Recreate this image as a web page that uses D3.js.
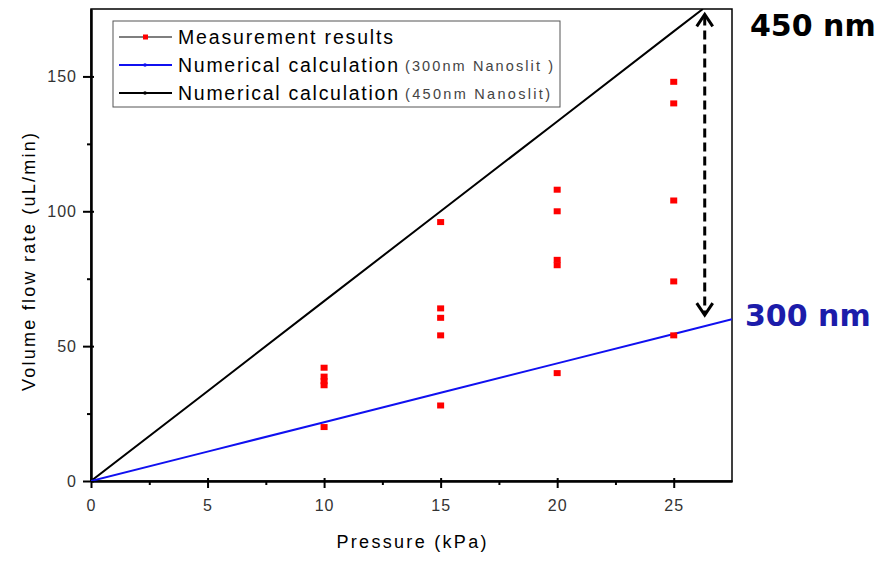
<!DOCTYPE html>
<html>
<head>
<meta charset="utf-8">
<script src="https://cdn.jsdelivr.net/npm/d3@7"></script>
<style>
    body { margin: 0; background: #fff; }
    #chart { width: 884px; height: 562px; }
    text { font-family: "Liberation Sans", Arial, sans-serif; }
</style>
</head>
<body>
<div id="chart"></div>
<script>

// measured points, one pressure per group
var measPressure = [10, 15, 20, 25];
var measFlow = [
    [42, 38.7, 37, 35.5, 20],
    [96, 64, 60.5, 54, 28],
    [108, 100, 82, 80, 40],
    [148, 140, 104, 74, 54]
];

// numerical calculation lines
var calcPressure300 = [0, 5, 10, 15, 20, 25, 27.5];
var calcFlow300 = [0, 10.9, 21.8, 32.7, 43.6, 54.5, 60];
var calcPressure450 = [0, 5, 10, 15, 20, 25, 26.25];
var calcFlow450 = [0, 33.3, 66.7, 100, 133.3, 166.7, 175];

var xTicks = [0, 5, 10, 15, 20, 25];
var xMinor = [2.5, 7.5, 12.5, 17.5, 22.5];
var yTicks = [0, 50, 100, 150];
var yMinor = [25, 75, 125];

var legendLabels = ["Measurement results", "Numerical calculation", "Numerical calculation"];
var legendNotes = ["", "(300nm Nanoslit )", "(450nm Nanoslit)"];


var width = 884;
var height = 562;
var margin = {top: 9, right: 152, bottom: 81, left: 91};

var svg = d3.select("#chart")
    .append("svg")
    .attr("width", width)
    .attr("height", height);

var x = d3.scaleLinear()
    .domain([0, 27.5])
    .range([margin.left, width - margin.right]);

var y = d3.scaleLinear()
    .domain([0, 175])
    .range([height - margin.bottom, margin.top]);

svg.append("clipPath")
    .attr("id", "plotClip")
    .append("rect")
    .attr("x", margin.left)
    .attr("y", margin.top)
    .attr("width", x(27.5) - x(0))
    .attr("height", y(0) - y(175));


// frame (top and right)
svg.append("rect")
    .attr("x", x(0))
    .attr("y", y(175))
    .attr("width", x(27.5) - x(0))
    .attr("height", y(0) - y(175))
    .attr("fill", "none")
    .attr("stroke", "#000")
    .attr("stroke-width", 1.5);


// axes
var xAxis = svg.append("g")
    .attr("transform", "translate(0," + y(0) + ")")
    .call(d3.axisBottom(x).tickValues(xTicks).tickSize(7).tickSizeOuter(0).tickPadding(12));

var xAxisMinor = svg.append("g")
    .attr("transform", "translate(0," + y(0) + ")")
    .call(d3.axisBottom(x).tickValues(xMinor).tickSize(4).tickSizeOuter(0).tickFormat(""));

var yAxis = svg.append("g")
    .attr("transform", "translate(" + x(0) + ",0)")
    .call(d3.axisLeft(y).tickValues(yTicks).tickSize(8).tickSizeOuter(0).tickPadding(6));

var yAxisMinor = svg.append("g")
    .attr("transform", "translate(" + x(0) + ",0)")
    .call(d3.axisLeft(y).tickValues(yMinor).tickSize(4).tickSizeOuter(0).tickFormat(""));

xAxis.selectAll(".tick line").attr("y1", -3);
yAxis.selectAll(".tick line").attr("x1", 3);

svg.selectAll(".domain").attr("stroke", "#000").attr("stroke-width", 2);
svg.selectAll(".tick line").attr("stroke", "#000").attr("stroke-width", 2);
svg.selectAll(".tick text")
    .attr("font-size", 16)
    .attr("letter-spacing", 1)
    .attr("fill", "#333")
    .style("font-family", "'Liberation Sans', Arial, sans-serif");


// axis titles
svg.append("text")
    .attr("x", (x(0) + x(27.5)) / 2)
    .attr("y", 548)
    .attr("text-anchor", "middle")
    .attr("font-size", 18)
    .attr("textLength", 150)
    .attr("fill", "#000")
    .text("Pressure (kPa)");

svg.append("text")
    .attr("transform", "translate(35," + 262 + ") rotate(-90)")
    .attr("text-anchor", "middle")
    .attr("font-size", 18)
    .attr("textLength", 258)
    .attr("fill", "#000")
    .text("Volume flow rate (uL/min)");


// calculated lines
var line = d3.line()
    .x(function(d) { return x(d[0]); })
    .y(function(d) { return y(d[1]); });

var plot = svg.append("g").attr("clip-path", "url(#plotClip)");

plot.append("path")
    .datum(d3.zip(calcPressure450, calcFlow450))
    .attr("fill", "none")
    .attr("stroke", "#000")
    .attr("stroke-width", 2)
    .attr("d", line);

plot.append("path")
    .datum(d3.zip(calcPressure300, calcFlow300))
    .attr("fill", "none")
    .attr("stroke", "#1010f0")
    .attr("stroke-width", 2)
    .attr("d", line);


// measurement points
var points = [];
measPressure.forEach(function(p, i) {
    measFlow[i].forEach(function(v) { points.push({p: p, v: v}); });
});

plot.selectAll("rect.meas")
    .data(points)
    .enter()
    .append("rect")
        .attr("class", "meas")
        .attr("x", function(d) { return x(d.p) - 3.5; })
        .attr("y", function(d) { return y(d.v) - 3; })
        .attr("width", 7)
        .attr("height", 6)
        .attr("fill", "#ff0000");


// double arrow between the two lines
var ax = x(26.33);
var aTop = y(173);
var aBot = y(61.5);

svg.append("line")
    .attr("x1", ax).attr("x2", ax)
    .attr("y1", aTop + 2).attr("y2", aBot - 2)
    .attr("stroke", "#000")
    .attr("stroke-width", 3)
    .attr("stroke-dasharray", "9,5");

svg.append("path")
    .attr("d", "M" + (ax - 8) + "," + (aTop + 12) + "L" + ax + "," + aTop + "L" + (ax + 8) + "," + (aTop + 12))
    .attr("fill", "none")
    .attr("stroke", "#000")
    .attr("stroke-width", 3);

svg.append("path")
    .attr("d", "M" + (ax - 8) + "," + (aBot - 12) + "L" + ax + "," + aBot + "L" + (ax + 8) + "," + (aBot - 12))
    .attr("fill", "none")
    .attr("stroke", "#000")
    .attr("stroke-width", 3);

svg.append("text")
    .attr("x", 750)
    .attr("y", 36)
    .attr("font-size", 30)
    .attr("font-weight", "bold")
    .style("font-family", "'DejaVu Sans', Verdana, sans-serif")
    .attr("fill", "#000")
    .text("450 nm");

svg.append("text")
    .attr("x", 745)
    .attr("y", 326)
    .attr("font-size", 30)
    .attr("font-weight", "bold")
    .style("font-family", "'DejaVu Sans', Verdana, sans-serif")
    .attr("fill", "#1c1caa")
    .text("300 nm");


// legend
var legend = svg.append("g");

legend.append("rect")
    .attr("x", 113)
    .attr("y", 21)
    .attr("width", 447)
    .attr("height", 86)
    .attr("fill", "#fff")
    .attr("stroke", "#555")
    .attr("stroke-width", 1);

var legendColors = ["#555", "#1010f0", "#000"];
var rowY = [37, 65, 93];

legendLabels.forEach(function(lab, i) {
    legend.append("line")
        .attr("x1", 119).attr("x2", 172)
        .attr("y1", rowY[i]).attr("y2", rowY[i])
        .attr("stroke", legendColors[i])
        .attr("stroke-width", i == 0 ? 1.5 : 2);

    if (i == 0) {
        legend.append("rect")
            .attr("x", 143).attr("y", rowY[i] - 2.5)
            .attr("width", 5).attr("height", 5)
            .attr("fill", "#ff0000");
    } else {
        legend.append("circle")
            .attr("cx", 145).attr("cy", rowY[i])
            .attr("r", 1.8)
            .attr("fill", legendColors[i]);
    }

    legend.append("text")
        .attr("x", 178)
        .attr("y", rowY[i] + 7)
        .attr("font-size", 19.5)
        .attr("textLength", i == 0 ? 215 : 220)
        .attr("fill", "#000")
        .text(lab);

    if (legendNotes[i]) {
        legend.append("text")
            .attr("x", 405)
            .attr("y", rowY[i] + 6)
            .attr("font-size", 14.5)
            .attr("textLength", i == 1 ? 148 : 145)
            .attr("fill", "#444")
            .text(legendNotes[i]);
    }
});

</script>
</body>
</html>
